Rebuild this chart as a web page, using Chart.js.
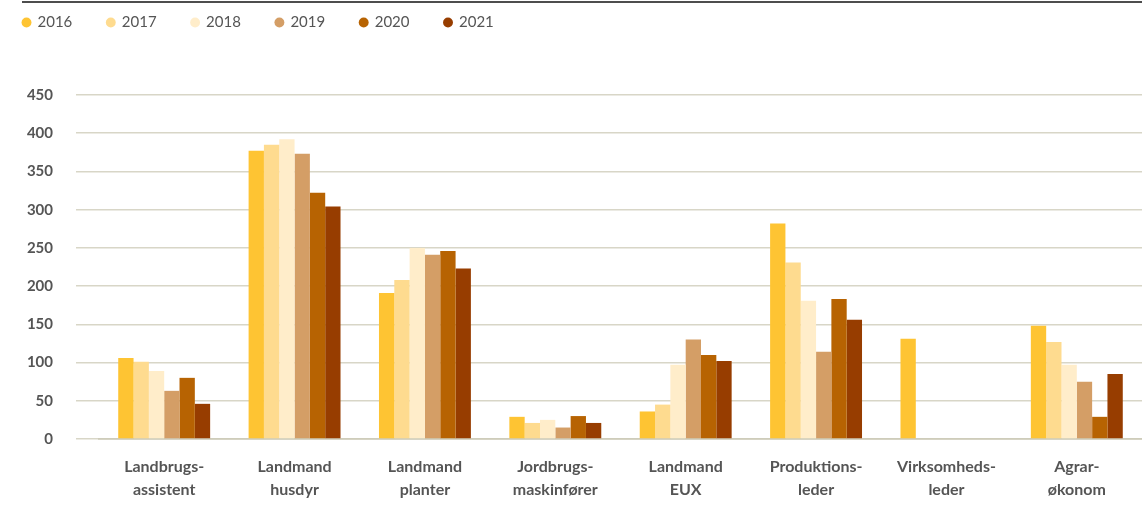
<!DOCTYPE html>
<html>
<head>
<meta charset="utf-8">
<script src="https://cdn.jsdelivr.net/npm/chart.js@4"></script>
<style>
  html, body { margin: 0; padding: 0; background: #fff; overflow: hidden; }
  #wrap { position: relative; width: 1142px; height: 505px; overflow: hidden; }
  #topline { position: absolute; left: 22px; top: 1px; width: 1120px; height: 2px; background: #4d4d4d; }
  #c { position: absolute; left: -12px; top: -20px; }
</style>
</head>
<body>
<div id="wrap">
  <div id="topline"></div>
  <canvas id="c" width="1154" height="525"></canvas>
</div>
<script>
const categories = [
  ["Landbrugs-", "assistent"],
  ["Landmand", "husdyr"],
  ["Landmand", "planter"],
  ["Jordbrugs-", "maskinfører"],
  ["Landmand", "EUX"],
  ["Produktions-", "leder"],
  ["Virksomheds-", "leder"],
  ["Agrar-", "økonom"]
];
const years = ["2016", "2017", "2018", "2019", "2020", "2021"];
const values2016 = [106, 377, 191, 29, 36, 282, 131, 148];
const values2017 = [101, 385, 208, 21, 45, 231, null, 127];
const values2018 = [89, 392, 250, 25, 97, 181, null, 97];
const values2019 = [63, 373, 241, 15, 130, 114, null, 75];
const values2020 = [80, 322, 246, 30, 110, 183, null, 29];
const values2021 = [46, 304, 223, 21, 102, 156, null, 85];
const yTicks = [0, 50, 100, 150, 200, 250, 300, 350, 400, 450];

const seriesValues = [values2016, values2017, values2018, values2019, values2020, values2021];
const colors = ["#FEC433", "#FEDB8F", "#FFEDCA", "#D49E66", "#B76302", "#973D00"];

const textGray = "#555555";
const gridColor = "#d8d6c7";

const datasets = years.map((y, i) => ({
  label: y,
  data: seriesValues[i],
  backgroundColor: colors[i],
  borderWidth: 0,
  barPercentage: 1.0,
  categoryPercentage: 0.705
}));

new Chart(document.getElementById("c"), {
  type: "bar",
  data: { labels: categories, datasets: datasets },
  options: {
    responsive: false,
    animation: false,
    devicePixelRatio: 1,
    layout: { padding: { left: 0, right: 0, top: 0, bottom: 0 } },
    plugins: {
      tooltip: { enabled: false },
      legend: {
        display: true,
        position: "top",
        align: "start",
        labels: {
          usePointStyle: true,
          pointStyle: "circle",
          boxWidth: 7,
          boxHeight: 7,
          padding: 35,
          color: textGray,
          font: { family: "Lato", size: 15, weight: "normal" }
        }
      },
      subtitle: {
        display: true,
        text: " ",
        position: "top",
        weight: 500,
        font: { size: 10, lineHeight: 1.2 },
        padding: { top: 0, bottom: 43 }
      }
    },
    scales: {
      x: {
        offset: true,
        z: 1,
        grid: { display: false, drawTicks: false },
        border: { display: true, color: "rgba(200,196,176,0.6)", width: 2 },
        ticks: {
          color: textGray,
          padding: 17,
          maxRotation: 0,
          autoSkip: false,
          font: { family: "Lato", size: 16, weight: "bold", lineHeight: 1.4 }
        },
        afterFit: (scale) => {
          scale.height = 66;
          scale.paddingLeft = 0;
          scale.paddingRight = 0;
        }
      },
      y: {
        min: 0,
        max: 450,
        border: { display: false },
        grid: {
          color: gridColor,
          lineWidth: 1.5,
          drawTicks: true,
          tickLength: 23,
          tickColor: gridColor
        },
        afterBuildTicks: (scale) => {
          scale.ticks = yTicks.map(v => ({ value: v }));
        },
        ticks: {
          color: textGray,
          padding: 23,
          font: { family: "Lato", size: 15, weight: "bold" }
        },
        afterFit: (scale) => {
          scale.width = 111;
        }
      }
    }
  }
});
</script>
</body>
</html>
